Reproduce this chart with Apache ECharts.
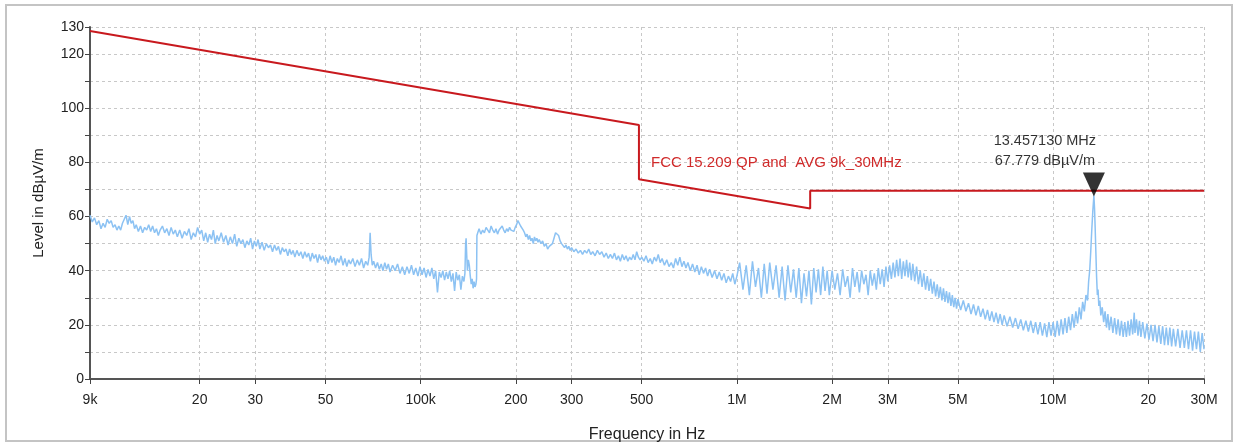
<!DOCTYPE html>
<html><head><meta charset="utf-8">
<script src="https://cdn.jsdelivr.net/npm/echarts@6/dist/echarts.min.js"></script>
<style>html,body{margin:0;padding:0;background:#fff}#c{width:1237px;height:443px}</style>
</head><body><div id="c"></div>
<script>
const xTickValues = [9e3,2e4,3e4,5e4,1e5,2e5,3e5,5e5,1e6,2e6,3e6,5e6,1e7,2e7,3e7];
const xTickLabels = ['9k','20','30','50','100k','200','300','500','1M','2M','3M','5M','10M','20','30M'];
const yTickLabels = [0,20,40,60,80,100,120,130];
const limitFreqKHz = [9,490,490,1705,1705,30000];
const limitLevel = [128.5,93.8,73.8,63.0,69.5,69.5];
const limitName = 'FCC 15.209 QP and  AVG 9k_30MHz';
const limitLabelAt = [535, 80];
const markerFreqHz = 13457130;
const markerLevel = 67.779;
// measured trace: [frequency kHz, level dBµV/m]
const spectrum = [
[9.0,60.5],[9.15,58],[9.3,59.5],[9.45,57],[9.6,58.5],[9.75,55.5],[9.9,57.5],[10.05,56],[10.2,59],[10.35,57.5],[10.5,58.5],[10.65,56],[10.8,57],[10.95,55],[11.1,56.5],[11.25,55],[11.4,57.5],[11.55,59],[11.7,60.5],[11.85,57],[12.0,60],[12.15,57.5],[12.3,58.5],[12.45,55.5],[12.6,57],[12.8,54.5],[13.0,56.5],[13.2,54],[13.4,56],[13.6,55],[13.8,57],[14.0,54.5],[14.2,56.5],[14.4,54],[14.6,55.5],[14.8,53],[15.0,55],[15.25,56.5],[15.5,54],[15.75,55.5],[16.0,53],[16.25,56],[16.5,53.5],[16.75,55],[17.0,52.5],[17.3,55],[17.6,52],[17.9,54.5],[18.2,53],[18.5,55.5],[18.8,51.5],[19.1,54],[19.4,52.5],[19.7,56],[20.0,53.5],[20.3,55],[20.6,51],[20.9,54],[21.2,50.5],[21.5,53.5],[21.8,51.5],[22.1,55],[22.4,50],[22.7,53],[23.0,51],[23.4,54],[23.8,50.5],[24.2,53],[24.6,49.5],[25.0,52.5],[25.4,50],[25.8,53.5],[26.2,49],[26.6,52],[27.0,50],[27.4,51.5],[27.8,48.5],[28.2,51],[28.6,49.5],[29.0,52],[29.4,48],[29.8,51],[30.2,49],[30.6,51.5],[31.0,48],[31.5,50.5],[32.0,47.5],[32.5,50],[33.0,48.5],[33.5,49.5],[34.0,47],[34.5,49.5],[35.0,47.5],[35.5,49],[36.0,46],[36.5,48.5],[37.0,47],[37.5,48],[38.0,45.5],[38.5,48],[39.0,46],[39.5,47.5],[40.0,45],[40.6,47.5],[41.2,45.5],[41.8,47],[42.4,44.5],[43.0,47],[43.6,45],[44.2,46.5],[44.8,43.5],[45.4,46.5],[46.0,44.5],[46.6,46],[47.2,43],[47.8,46],[48.4,44],[49.0,45.5],[49.6,43.5],[50.3,45],[51.0,42.5],[51.7,45.5],[52.4,43],[53.1,45],[53.8,42],[54.5,44.5],[55.2,43],[56.0,45.5],[56.8,42],[57.6,44.5],[58.4,41.5],[59.2,44],[60.0,42.5],[61,44.5],[62,41.5],[63,44],[64,42],[65,44.5],[66,41],[67,43.5],[68,42],[68.7,45],[69.2,54],[69.7,46],[70.3,42],[71,43.5],[72,41],[73,43],[74,40.5],[75,42.5],[76,40],[77,43],[78,40.5],[79,42.5],[80,39.5],[81.5,42],[83,40],[84.5,42.5],[86,39],[87.5,41.5],[89,38.5],[90.5,41.5],[92,39],[93.5,42],[95,38.5],[96.5,41],[98,38],[99.5,41.5],[101,38.5],[102.5,41],[104,37.5],[105.5,40.5],[107,38],[108.5,41],[110,37],[111.5,40],[113,32],[114.5,39.5],[116,37.5],[117.5,40],[119,36.5],[120.5,39.5],[122,37],[123.5,40],[125,36],[126.5,39],[128,32.5],[129.5,39.5],[131,36.5],[132.5,38.5],[134,33],[135.5,38],[137,36],[138,39],[138.7,50],[139.2,52],[139.8,46],[140.5,40],[141.5,44],[142.5,42],[143.5,38],[144.5,35],[145.5,37],[146.5,33.5],[147.5,36],[148.5,34],[149.5,35],[150.2,37],[150.6,53],
[151.5,54],[153,55.5],[155,53.5],[157,55],[159,54],[161,56],[163,55],[165,54],[167,56.5],[169,55],[171,54],[173,55.5],[175,53.5],[177,55],[179,54.5],[181,56.5],[183,55],[185,54],[187,55.5],[189,54.5],[191,56],[193,55],[195,55.5],[197,54.5],[199,56],[201,57],[203,58.5],[205,58],[207,56.5],[209,57],[211,55],[213,54],[215,52.5],[217,53.5],[219,51.5],[221,53],[223,51],[225,52],[227,50],[229,52.5],[231,51],[233,52],[235,50.5],[237,51.5],[240,50],[243,51],[246,49],[249,50],[252,48],[255,49],[258,48.5],[261,50],[264,52],[267,54],[270,54.5],[273,53],[276,51],[279,50],[282,50.5],[285,48.5],[288,49.5],[291,48],[294,49],[297,47.5],[300,48.5],[305,47],[310,48],[315,46.5],[320,47.5],[325,46],[330,47.5],[335,46.5],[340,48],[345,46],[350,47],[356,45.5],[362,47.5],[368,46],[374,47],[380,45],[386,46.5],[392,44.5],[398,46],[404,44.5],[410,46.5],[416,44],[422,45.5],[428,43.5],[434,46],[440,44],[446,45.5],[452,43.5],[458,45],[464,44],[470,46],[476,44],[482,47],[488,45],[494,44],[500,45],[508,43.5],[516,45.5],[524,43],[532,44.5],[540,42.5],[548,45],[556,43.5],[564,46],[572,43],[580,44.5],[590,42],[600,44],[610,41.5],[620,43],[630,41],[640,44.5],[650,42],[660,45],[670,41.5],[680,43.5],[690,41],[700,43],[712,40],[724,42.5],[736,39.5],[748,42],[760,38.5],[772,41.5],[784,39],[796,41],[808,38],[820,40.5],[835,37.5],[850,40],[865,37],[880,39.5],[895,36.5],[910,39],[925,35.5],[940,38],[955,36],[970,39],[985,35],[1000,38],
[1020,43],[1045,33],[1070,42],[1095,31],[1120,43.5],[1145,34],[1170,41],[1195,30],[1220,42.5],[1245,31.5],[1270,43],[1300,33],[1330,42],[1360,30],[1390,41.5],[1420,29],[1450,42],[1480,32],[1510,40.5],[1540,30],[1570,41],[1600,28],[1630,39],[1660,30.5],[1690,40],[1720,27.5],[1750,41],[1780,32],[1810,40.5],[1840,31],[1870,41.5],[1900,32.5],[1930,40],[1960,31],
[2000,40],[2040,33],[2080,39],[2120,31],[2160,40.5],[2200,34],[2240,38],[2280,30],[2320,41],[2360,34],[2400,39.5],[2440,32],[2480,40],[2520,35],[2560,38.5],[2600,31],[2640,40],[2680,34.5],[2720,39],[2760,33],[2800,41],[2840,35],[2880,40.5],[2920,34],[2960,41.5],[3000,36],[3040,42],[3080,37],[3120,43],[3160,37.5],[3200,44],[3240,38],[3280,44.5],[3320,37],[3360,43.5],[3400,38],[3440,44],[3480,37.5],[3520,43],[3560,36.5],[3600,42.5],[3650,36],[3700,41.5],[3750,35],[3800,40],[3850,34],[3900,39],[3950,33],[4000,38],[4050,32.5],[4100,37],[4150,31.5],[4200,36],[4250,30.5],[4300,35],[4350,30],[4400,34],[4450,29],[4500,33.5],[4550,28.5],[4600,32.5],[4650,28],[4700,32],[4750,27],[4800,31],[4850,26.5],[4900,30],[4950,26],[5000,29.5],[5100,25.5],[5200,29],[5300,25],[5400,28],[5500,24],[5600,27.5],[5700,23.5],[5800,27],[5900,23],[6000,26],[6100,22],[6200,25.5],[6300,21.5],[6400,25],[6500,21],[6600,24.5],[6700,20.5],[6800,24],[6900,20],[7000,23.5],[7150,19.5],[7300,23],[7450,19],[7600,22.5],[7750,18.5],[7900,22],[8050,18],[8200,21.5],[8350,17.5],[8500,21.5],[8650,17],[8800,21],[8950,16.5],[9100,21],[9250,16],[9400,20.5],[9550,15.5],[9700,21],[9850,16],[10000,21],[10150,15.5],[10300,21.5],[10450,16],[10600,22],[10750,16.5],[10900,22.5],[11050,17],[11200,23],[11350,18],[11500,24],[11650,19],[11800,25],[11950,20.5],[12100,26.5],[12250,22],[12400,28.5],[12550,25],[12700,31],[12850,29],[12950,36],[13050,40],[13150,47],[13250,55],[13350,62],[13457.13,67.779],[13520,63],[13580,56],[13650,47],[13720,38],[13800,31],[13870,33],[13950,27],[14050,29],[14150,23.5],[14300,26.5],[14450,21],[14600,25],[14750,19],[14900,24],[15050,18],[15250,23],[15450,17],[15650,22.5],[15850,16.5],[16050,22],[16250,16],[16450,21.5],[16650,15.5],[16850,21],[17050,15.5],[17250,21.5],[17450,16],[17650,22],[17850,16.5],[18050,24.5],[18150,17],[18350,22],[18550,16],[18750,21.5],[18950,15.5],[19200,21],[19500,15],[19800,20.5],[20100,14.5],[20400,20],[20700,14],[21000,20],[21300,13.5],[21600,19.5],[21900,13],[22200,19.5],[22500,12.5],[22800,19],[23100,12.5],[23400,19],[23700,12],[24000,18.5],[24400,12],[24800,18.5],[25200,11.5],[25600,18],[26000,11.5],[26400,18],[26800,11],[27200,18],[27600,10.5],[28000,17.5],[28400,11],[28800,17.5],[29200,10],[29600,17],[30000,11]
];

const fmtX = v => {
  for (let i = 0; i < xTickValues.length; i++) {
    if (Math.abs(v - xTickValues[i]) / xTickValues[i] < 1e-6) return xTickLabels[i];
  }
  return '';
};
const chart = echarts.init(document.getElementById('c'), null, {renderer: 'canvas'});
const font = 'Liberation Sans, Arial, sans-serif';
chart.setOption({
  animation: false,
  backgroundColor: '#fff',
  textStyle: {fontFamily: font},
  graphic: [{type: 'rect', shape: {x: 6, y: 5, width: 1226, height: 436}, style: {fill: 'none', stroke: '#c4c4c4', lineWidth: 2}, z: -1}],
  grid: {left: 90, right: 33, top: 27, bottom: 64, containLabel: false, outerBoundsMode: 'none'},
  xAxis: {
    type: 'log', logBase: 10, min: 9000, max: 30e6,
    name: 'Frequency in Hz', nameLocation: 'middle', nameGap: 48,
    nameTextStyle: {fontSize: 16, color: '#222', fontFamily: font},
    axisLine: {lineStyle: {color: '#555', width: 2}},
    axisTick: {customValues: xTickValues, length: 5, lineStyle: {color: '#444'}},
    axisLabel: {customValues: xTickValues, formatter: fmtX, fontSize: 14, color: '#222', margin: 14, fontFamily: font},
    splitLine: {show: true, lineStyle: {type: [3, 3], color: '#c8c8c8', width: 1}},
    minorTick: {show: false}
  },
  yAxis: {
    type: 'value', min: 0, max: 130, interval: 10,
    name: 'Level in dBµV/m', nameLocation: 'middle', nameGap: 44, nameRotate: 90,
    nameTextStyle: {fontSize: 15, color: '#222', fontFamily: font},
    axisLine: {show: true, lineStyle: {color: '#555', width: 2}},
    axisTick: {show: true, length: 5, lineStyle: {color: '#444'}},
    axisLabel: {formatter: v => yTickLabels.includes(v) ? String(v) : '', fontSize: 14, color: '#222', margin: 6, fontFamily: font},
    splitLine: {show: true, lineStyle: {type: [3, 3], color: '#c8c8c8', width: 1}}
  },
  series: [
    {
      type: 'line', name: 'trace', data: spectrum.map(p => [p[0] * 1000, p[1]]),
      showSymbol: false, symbol: 'none', lineStyle: {color: '#8cc2f3', width: 1.5}, z: 2
    },
    {
      type: 'line', name: limitName, data: limitFreqKHz.map((f, i) => [f * 1000, limitLevel[i]]),
      showSymbol: false, symbol: 'none', lineStyle: {color: '#c8191e', width: 2}, z: 3,
      markPoint: {
        symbol: 'circle', symbolSize: 0,
        data: [{coord: [limitLabelAt[0] * 1000, limitLabelAt[1]]}],
        label: {show: true, position: 'right', distance: 0, formatter: limitName, color: '#d02a2a', fontSize: 15, fontFamily: font}
      }
    },
    {
      type: 'scatter', name: 'marker', data: [[markerFreqHz, markerLevel]],
      symbol: 'triangle', symbolRotate: 180, symbolSize: [22, 24], symbolOffset: [0, -11],
      itemStyle: {color: '#000'}, z: 5,
      label: {
        show: true, position: 'top', offset: [-49, 4], lineHeight: 20,
        formatter: () => (markerFreqHz / 1e6).toFixed(6) + ' MHz\n' + markerLevel.toFixed(3) + ' dBµV/m',
        color: '#000', fontSize: 14.5, fontFamily: font
      }
    }
  ]
});
</script></body></html>
